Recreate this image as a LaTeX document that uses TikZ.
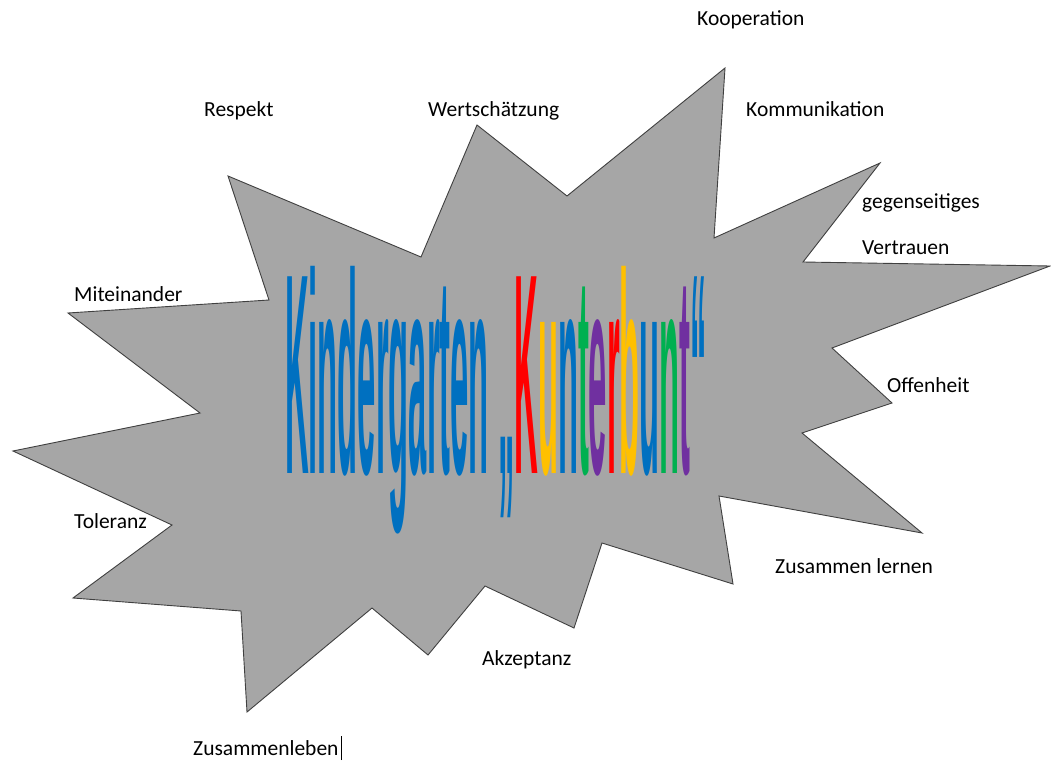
\documentclass[tikz,border=0pt]{standalone}
\usepackage{fontspec}
\usepackage{graphicx}
\setmainfont{Carlito}
\newfontfamily\titlefont{Liberation Sans}
\definecolor{kblue}{HTML}{0070C0}
\definecolor{kred}{HTML}{FF0000}
\definecolor{kyellow}{HTML}{FFC000}
\definecolor{kgreen}{HTML}{00B050}
\definecolor{kpurple}{HTML}{7030A0}
\definecolor{starfill}{HTML}{A6A6A6}
\definecolor{starline}{HTML}{404040}

\begin{document}
\begin{tikzpicture}[x=1pt,y=-1pt]
\tikzstyle{every node}+=[inner sep=0pt]
\tikzstyle{word}=[anchor=base west,font=\fontsize{21.5}{26}\selectfont]
\useasboundingbox (0,0) rectangle (1051,762);
\fill [white] (0,0) rectangle (1051,762);
% the star
\draw [fill=starfill,draw=starline,line width=0.9pt,line join=miter]
  (68,313) -- (269,300) -- (228,176) -- (421,257) -- (477,125)
  -- (567,196) -- (725,68) -- (714,238) -- (880,163) -- (803,262)
  -- (1050,266) -- (832,348) -- (892,403) -- (802,433) -- (922,533)
  -- (719,496) -- (733,584) -- (602,543) -- (574,628) -- (485,586)
  -- (428,655) -- (372,608) -- (247,712) -- (241,611) -- (73,598)
  -- (172,525) -- (13,451) -- (200,413) -- cycle;
% title
\node (title) [anchor=base west] at (285,473)
  {\titlefont\bfseries\fontsize{286}{286}\selectfont
   \resizebox{422pt}{\height}{\color{kblue}Kindergarten \mbox{„}%
   {\color{kred}K}{\color{kyellow}u}{\color{kblue}n}{\color{kgreen}t}%
   {\color{kpurple}e}{\color{kred}r}{\color{kyellow}b}{\color{kblue}u}%
   {\color{kgreen}n}{\color{kpurple}t}“}};
% words round the star
\node (koop) [word] at (697,26) {Kooperation};
\node (komm) [word] at (746,117) {Kommunikation};
\node (wert) [word] at (428,117) {Wertschätzung};
\node (resp) [word] at (204,117) {Respekt};
\node (gegen) [word] at (862,208) {gegenseitiges};
\node (vertr) [word] at (862,254) {Vertrauen};
\node (mit) [word] at (74,301) {Miteinander};
\node (offen) [word] at (887,392) {Offenheit};
\node (tol) [word] at (74,528) {Toleranz};
\node (zlern) [word] at (775,573) {Zusammen lernen};
\node (akz) [word] at (482,665) {Akzeptanz};
\node (zleben) [word] at (193,755) {Zusammenleben};
\draw [line width=1pt] ([xshift=3pt]zleben.base east) ++(0,5) -- ++(0,-24);
\end{tikzpicture}
\end{document}
